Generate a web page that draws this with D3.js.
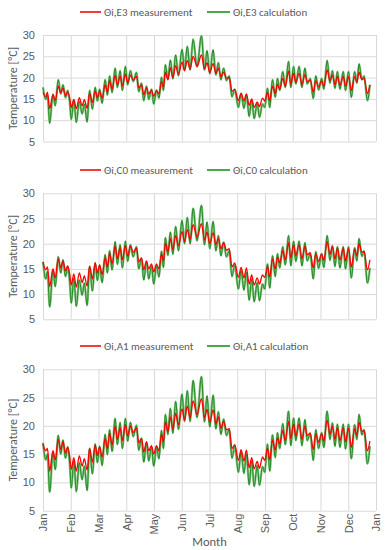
<!DOCTYPE html>
<html lang="en">
<head>
<meta charset="UTF-8">
<title>Indoor temperature: measurement vs calculation</title>
<style>
  * { margin: 0; padding: 0; }
  body { background: #fff; }
  svg { display: block; font-family: Carlito, Roboto, sans-serif; }
  .grid line, .grid path { stroke: #d9d9d9; stroke-width: 1; }
  .tick text { fill: #595959; font-size: 11px; }
  .legend text { fill: #595959; font-size: 11px; }
  .axis-title { fill: #595959; font-size: 12px; }
</style>
</head>
<body>
<svg></svg>
<script src="https://d3js.org/d3.v7.min.js"></script>
<script>
// month labels on the x axis (13 grid lines, Jan..Jan)
const months = ['Jan','Feb','Mar','Apr','May','Jun','Jul','Aug','Sep','Oct','Nov','Dec','Jan'];
const yTicks = [5, 10, 15, 20, 25, 30];

// time of each turning point, in months from 1 Jan
const t = [0.00,0.10,0.16,0.24,0.36,0.44,0.55,0.64,0.72,0.81,
  0.89,0.96,1.02,1.11,1.20,1.31,1.41,1.49,1.59,1.68,
  1.78,1.88,1.96,2.04,2.13,2.24,2.32,2.40,2.49,2.60,
  2.68,2.78,2.86,2.97,3.05,3.15,3.25,3.37,3.45,3.55,
  3.63,3.73,3.81,3.91,3.99,4.09,4.18,4.27,4.34,4.41,
  4.50,4.59,4.68,4.78,4.88,5.01,5.10,5.20,5.30,5.41,
  5.55,5.71,5.82,5.91,6.01,6.13,6.23,6.32,6.41,6.51,
  6.61,6.71,6.81,6.91,7.04,7.14,7.24,7.33,7.43,7.52,
  7.61,7.72,7.80,7.91,7.99,8.09,8.17,8.27,8.37,8.45,
  8.53,8.64,8.73,8.85,8.93,9.03,9.11,9.23,9.33,9.44,
  9.52,9.63,9.74,9.83,9.93,10.04,10.12,10.24,10.34,10.43,
  10.52,10.61,10.70,10.82,10.90,11.01,11.11,11.23,11.31,11.39,
  11.49,11.57,11.69,11.78];

const measE3 = [16.5,15.5,16.6,12.7,16.0,14.6,18.0,16.4,17.5,15.8,
  16.6,15.2,13.0,14.8,12.7,15.3,13.4,14.8,12.8,16.3,
  14.2,16.9,15.3,16.8,15.2,18.3,16.6,19.3,17.3,20.5,
  18.3,20.3,18.0,20.8,18.8,20.6,19.4,20.3,17.6,18.3,
  16.0,17.6,16.2,17.0,15.6,16.9,16.2,19.0,17.8,21.2,
  19.6,22.3,20.0,22.8,20.8,23.6,21.6,24.0,22.0,25.0,
  22.6,25.3,22.0,23.5,21.2,23.3,21.0,22.2,20.2,21.3,
  19.9,20.0,16.8,17.2,14.6,16.3,14.5,16.2,13.5,15.0,
  13.0,14.3,13.2,15.2,14.5,16.5,14.6,18.0,16.3,18.4,
  17.3,19.8,18.0,21.5,18.5,21.0,18.9,21.0,18.4,20.7,
  19.0,19.4,16.6,19.3,17.8,19.2,18.0,21.8,19.3,20.6,
  18.3,20.3,18.2,20.3,18.0,20.2,17.0,20.2,19.0,21.2,
  19.6,19.8,16.3,18.3];
const calcE3 = [17.7,14.9,15.9,9.3,16.1,13.4,19.5,16.2,18.3,15.3,
  17.0,14.4,10.2,14.8,9.5,14.4,11.5,13.8,9.6,17.0,
  12.6,17.7,14.5,17.3,14.0,19.5,15.9,20.4,16.5,22.2,
  17.7,21.6,17.0,22.6,18.3,21.6,19.1,21.2,16.7,18.7,
  14.6,18.0,14.9,17.3,13.8,17.1,15.2,20.1,17.0,23.0,
  19.5,24.1,19.7,25.3,20.4,26.6,21.8,27.3,21.8,29.0,
  22.6,29.8,21.8,26.3,20.9,26.5,20.6,23.5,19.5,22.2,
  19.3,20.4,15.5,17.3,13.0,16.3,12.8,15.9,10.9,14.8,
  10.4,14.0,10.7,13.8,13.0,17.5,13.0,19.5,15.4,19.8,
  17.0,21.4,17.7,23.8,17.7,22.6,18.5,22.6,17.7,22.2,
  18.5,19.8,15.1,20.4,17.1,19.8,17.3,24.0,18.7,21.6,
  17.5,21.4,17.3,21.4,17.0,21.4,15.4,21.4,18.7,23.2,
  19.5,20.4,14.6,18.3];

const measC0 = [16.4,14.8,15.4,11.5,15.0,13.2,17.0,15.2,16.6,14.6,
  15.6,14.0,11.8,14.0,11.4,14.2,12.3,13.6,11.6,15.6,
  13.0,16.2,14.2,15.8,13.9,17.2,15.4,18.1,16.0,19.5,
  17.0,19.2,16.8,19.6,17.5,19.5,18.3,19.1,16.4,17.2,
  14.8,16.6,15.0,16.0,14.4,16.0,15.0,18.0,16.6,20.1,
  18.4,21.0,18.8,21.6,19.6,22.4,20.4,22.8,20.8,23.8,
  21.3,24.0,20.7,22.3,20.0,22.2,19.8,21.0,19.0,20.2,
  18.7,19.0,15.4,16.2,13.3,15.3,13.2,15.2,12.0,13.8,
  11.8,13.2,12.0,13.8,13.3,15.5,13.4,17.0,15.0,17.4,
  16.2,18.6,16.8,20.2,17.2,19.8,17.6,19.8,17.0,19.5,
  17.8,18.2,15.2,18.0,16.5,18.0,16.7,20.4,17.9,19.4,
  17.0,19.1,16.8,19.1,16.6,19.0,15.4,18.9,17.6,20.0,
  18.3,18.5,14.8,16.8];
const calcC0 = [16.4,13.0,14.5,7.5,14.8,11.5,17.4,14.2,16.8,13.5,
  15.5,12.5,8.2,13.2,7.6,12.8,9.8,12.2,7.8,15.4,
  10.6,16.2,12.7,15.7,12.3,17.8,14.2,18.6,14.8,20.4,
  15.9,19.8,15.2,20.5,16.5,19.8,17.4,19.4,15.0,17.1,
  12.8,16.4,13.0,15.6,12.0,15.6,13.4,18.5,15.3,21.2,
  17.7,22.3,17.9,23.4,18.6,24.6,20.0,25.2,20.0,27.0,
  20.6,27.6,19.8,24.3,19.0,24.4,18.6,21.6,17.6,20.3,
  17.4,18.6,13.5,15.8,11.0,14.7,10.8,14.3,8.8,13.0,
  8.5,12.3,8.7,12.0,11.0,16.0,11.2,17.6,13.5,18.0,
  15.2,19.4,15.8,21.6,15.6,20.5,16.5,20.5,15.6,20.2,
  16.6,18.0,13.0,18.4,15.1,18.0,15.3,21.6,16.7,19.6,
  15.5,19.4,15.2,19.4,15.0,19.4,13.2,19.2,16.6,21.0,
  17.5,18.5,12.2,15.2];

const measA1 = [16.8,15.6,16.0,12.0,15.6,14.0,17.6,15.8,17.2,15.2,
  16.2,14.6,12.3,14.4,12.0,14.7,12.9,14.2,12.2,16.0,
  13.6,16.6,14.8,16.3,14.5,17.8,16.0,18.7,16.6,20.0,
  17.6,19.7,17.4,20.2,18.2,20.0,18.8,19.7,17.0,17.8,
  15.4,17.2,15.6,16.5,15.0,16.5,15.6,18.5,17.2,20.7,
  19.0,21.6,19.4,22.2,20.2,23.0,21.0,23.5,21.4,24.4,
  22.0,24.8,21.4,22.9,20.6,22.8,20.4,21.6,19.6,20.8,
  19.3,19.5,16.0,16.7,13.9,15.8,13.8,15.7,12.6,14.4,
  12.4,13.7,12.5,14.5,13.9,16.0,14.0,17.5,15.7,17.9,
  16.8,19.2,17.4,20.8,17.8,20.3,18.2,20.3,17.6,20.0,
  18.3,18.7,15.8,18.6,17.1,18.6,17.3,21.0,18.5,19.9,
  17.6,19.7,17.4,19.7,17.2,19.6,16.2,19.5,18.3,20.6,
  19.0,19.2,15.6,17.3];
const calcA1 = [17.0,14.0,15.0,8.3,15.4,12.3,18.3,15.0,17.5,14.3,
  16.3,13.4,9.0,13.8,8.4,13.5,10.5,12.9,8.6,16.0,
  11.5,16.8,13.5,16.4,13.0,18.5,14.9,19.3,15.5,21.3,
  16.7,20.6,16.0,21.3,17.3,20.6,18.1,20.1,15.7,17.8,
  13.6,17.0,13.8,16.3,12.9,16.2,14.2,19.2,16.0,22.0,
  18.5,23.1,18.7,24.3,19.4,25.6,20.8,26.2,20.8,28.0,
  21.5,28.7,20.7,25.3,19.8,25.4,19.5,22.5,18.5,21.2,
  18.3,19.4,14.3,16.5,11.8,15.4,11.6,15.0,9.6,13.8,
  9.3,13.0,9.5,12.8,11.8,16.8,12.0,18.4,14.4,18.8,
  16.0,20.4,16.7,22.6,16.5,21.4,17.4,21.4,16.5,21.1,
  17.4,18.7,13.9,19.3,16.0,18.8,16.2,22.6,17.6,20.5,
  16.4,20.3,16.2,20.3,15.9,20.3,14.2,20.2,17.6,22.0,
  18.4,19.3,13.3,16.4];

const width = 389, height = 550;
const svg = d3.select('svg').attr('width', width).attr('height', height);

const x = d3.scaleLinear().domain([0, 12]).range([43, 376]);

const panels = [
  { key: 'E3', meas: measE3, calc: calcE3, legendY: 12,  top: 35,    bottom: 141.5 },
  { key: 'C0', meas: measC0, calc: calcC0, legendY: 170, top: 193.3, bottom: 319.3 },
  { key: 'A1', meas: measA1, calc: calcA1, legendY: 346, top: 369.3, bottom: 510.7, months: true }
];

const red = '#ff0000';
const green = '#1f8a1f';

panels.forEach(p => {
  const y = d3.scaleLinear().domain([5, 30]).range([p.bottom, p.top]);
  const g = svg.append('g');

  // horizontal grid + y labels
  g.append('g')
    .attr('class', 'grid')
    .attr('transform', 'translate(' + x(0) + ',0)')
    .call(d3.axisLeft(y).tickValues(yTicks).tickSize(-(x(12) - x(0))).tickPadding(8))
    .call(a => a.select('.domain').remove());

  // vertical grid (+ month labels on the last panel)
  const xa = g.append('g')
    .attr('class', 'grid')
    .attr('transform', 'translate(0,' + p.bottom + ')')
    .call(d3.axisBottom(x).tickValues(d3.range(13)).tickSize(-(p.bottom - p.top))
      .tickFormat(i => months[i]))
    .call(a => a.select('.domain').remove());
  if (p.months) {
    xa.selectAll('.tick text')
      .attr('transform', 'rotate(-90)')
      .attr('x', -3).attr('y', 0).attr('dy', '0.35em')
      .style('text-anchor', 'end');
  } else {
    xa.selectAll('.tick text').remove();
  }

  // y title
  g.append('text')
    .attr('class', 'axis-title')
    .attr('transform', 'translate(16.5,' + (p.top + p.bottom) / 2 + ') rotate(-90)')
    .attr('text-anchor', 'middle')
    .text('Temperature [°C]');

  const line = vals => d3.line()
    .x((d, i) => x(t[i]))
    .y(d => y(d))
    .curve(d3.curveMonotoneX)(vals);

  // calculation band (light under-stroke + darker line), then measurement on top
  g.append('path').attr('d', line(p.calc))
    .attr('fill', 'none').attr('stroke', '#8fc78f').attr('stroke-width', 2.4)
    .attr('stroke-linejoin', 'round');
  g.append('path').attr('d', line(p.calc))
    .attr('fill', 'none').attr('stroke', green).attr('stroke-width', 1.0)
    .attr('stroke-linejoin', 'round');
  g.append('path').attr('d', line(p.meas))
    .attr('fill', 'none').attr('stroke', red).attr('stroke-width', 1.3)
    .attr('stroke-linejoin', 'round');

  // legend
  const lg = g.append('g').attr('class', 'legend');
  const items = [
    { x0: 80, x1: 101, tx: 104, color: '#f23c3c', label: 'Θi,' + p.key + ' measurement' },
    { x0: 207, x1: 230, tx: 233, color: '#4ea64e', label: 'Θi,' + p.key + ' calculation' }
  ];
  items.forEach(it => {
    lg.append('line')
      .attr('x1', it.x0).attr('x2', it.x1)
      .attr('y1', p.legendY).attr('y2', p.legendY)
      .attr('stroke', it.color).attr('stroke-width', 2);
    lg.append('text')
      .attr('x', it.tx).attr('y', p.legendY).attr('dy', '0.35em')
      .text(it.label);
  });
});

svg.append('text')
  .attr('class', 'axis-title')
  .attr('x', x(6)).attr('y', 546)
  .attr('text-anchor', 'middle')
  .style('font-size', '12.5px')
  .text('Month');
</script>
</body>
</html>
